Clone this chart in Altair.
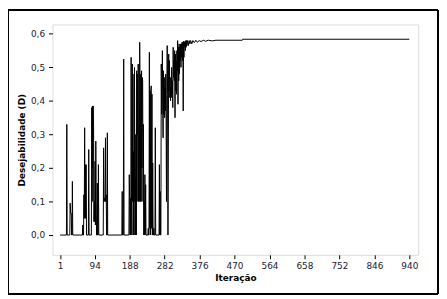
import altair as alt
import pandas as pd

iteracao = [
    1, 18, 19, 20, 27, 28, 29, 30, 31, 32, 33, 34, 35,
    61, 62, 63, 64, 65, 66, 67, 68, 69, 70, 71, 72, 77, 78, 79,
    85, 86, 87, 88, 89, 90, 91, 92, 93, 94, 95, 96, 97, 98, 99, 100, 101, 102, 103, 104, 105,
    117, 118, 119, 120, 121, 122, 123, 124, 125, 126, 127, 128, 129,
    167, 168, 169, 171, 172, 173,
    186, 187, 188, 189, 190, 191, 192, 193, 194, 195, 196, 197, 198, 199, 200,
    201, 202, 203, 204, 205, 206, 207, 208, 209, 210, 211, 212, 213, 214, 215,
    216, 217, 218, 219, 220, 221, 222, 223, 224, 225, 226, 227, 228, 229, 230, 231, 232,
    237, 238, 239, 240, 241, 242, 243, 244, 245, 246, 247, 248, 249, 250, 251, 252, 253, 254,
    256, 257, 258, 267, 268, 269, 270, 271, 272,
    273, 274, 275, 276, 277, 278, 279, 280, 281, 282, 283, 284, 285, 286, 287, 288, 289, 290,
    291, 292, 293, 294, 295, 296, 297, 298, 299, 300, 301, 302, 303, 304, 305, 306, 307, 308,
    309, 310, 311, 312, 313, 314, 315, 316, 317, 318, 319, 320, 321, 322, 323, 324, 325, 326,
    327, 328, 329, 330, 331, 332, 333, 334, 335, 336, 337, 338, 339, 340, 341, 342, 344, 346,
    348, 350, 352, 355, 358, 362, 366, 370, 375, 380, 386, 392, 400, 410, 420, 491, 492, 940,
]

desejabilidade = [
    0, 0, 0.33, 0, 0, 0.095, 0.065, 0.065, 0.065, 0, 0, 0.16, 0,
    0, 0.03, 0, 0, 0.12, 0.05, 0.32, 0.05, 0.21, 0.05, 0.21, 0, 0, 0.255, 0,
    0, 0.38, 0.2, 0.385, 0.1, 0.385, 0.32, 0.04, 0.1, 0.04, 0.22, 0.03, 0.28, 0.1, 0, 0, 0.155, 0, 0, 0.21, 0,
    0, 0.26, 0.1, 0.11, 0.11, 0.1, 0.29, 0.1, 0.12, 0, 0, 0.305, 0,
    0, 0.13, 0, 0, 0.525, 0,
    0, 0.18, 0.11, 0, 0.11, 0, 0.53, 0.1, 0, 0.51, 0.1, 0.48, 0, 0.25, 0,
    0.5, 0.1, 0.3, 0, 0.17, 0, 0.49, 0.1, 0.48, 0.3, 0.51, 0.1, 0.3, 0.1, 0.575,
    0.4, 0.1, 0.48, 0.1, 0.49, 0.2, 0.47, 0.46, 0.1, 0.33, 0, 0.1, 0, 0.18, 0, 0.15, 0,
    0, 0.02, 0, 0, 0.545, 0.02, 0.43, 0, 0.43, 0.445, 0.02, 0.42, 0, 0.215, 0, 0, 0.02, 0,
    0, 0.32, 0, 0, 0.21, 0, 0.13, 0, 0,
    0.51, 0.36, 0.40, 0.55, 0.37, 0.29, 0.49, 0.36, 0.47, 0.35, 0.44, 0.37, 0.48, 0.35, 0.1, 0.44, 0.565, 0.42,
    0, 0.26, 0.54, 0.43, 0.52, 0.41, 0.47, 0.40, 0.44, 0.41, 0.5, 0.42, 0.46, 0.38, 0.56, 0.47, 0.52, 0.46,
    0.55, 0.35, 0.54, 0.43, 0.52, 0.42, 0.55, 0.49, 0.58, 0.39, 0.56, 0.46, 0.57, 0.48, 0.56, 0.52, 0.57, 0.5,
    0.57, 0.53, 0.575, 0.52, 0.575, 0.37, 0.578, 0.53, 0.575, 0.56, 0.578, 0.55, 0.58, 0.56, 0.58, 0.565, 0.58, 0.565,
    0.58, 0.57, 0.58, 0.57, 0.58, 0.574, 0.581, 0.575, 0.58, 0.577, 0.581, 0.578, 0.581, 0.579, 0.581, 0.581, 0.584, 0.584,
]

x_ticks = [1, 94, 188, 282, 376, 470, 564, 658, 752, 846, 940]
y_ticks = [0.0, 0.1, 0.2, 0.3, 0.4, 0.5, 0.6]

df = pd.DataFrame({"Iteracao": iteracao, "D": desejabilidade})

W, H = 370, 233
PL, PT = 45, 15

axis_common = dict(
    grid=False,
    domain=False,
    tickColor="black",
    tickSize=4,
    labelColor="#1a1a2e",
    labelFont="DejaVu Sans",
    labelFontSize=9,
    titleFont="DejaVu Sans",
    titleFontSize=9,
    titleFontWeight="bold",
    titleColor="black",
)

line = alt.Chart(df).mark_line(color="black", strokeWidth=1, clip=True).encode(
    x=alt.X(
        "Iteracao:Q",
        scale=alt.Scale(domain=[-19.5, 964], nice=False, zero=False),
        axis=alt.Axis(values=x_ticks, title="Iteração", labelPadding=3, titlePadding=3, **axis_common),
    ),
    y=alt.Y(
        "D:Q",
        scale=alt.Scale(domain=[-0.059, 0.628], nice=False, zero=False),
        axis=alt.Axis(
            values=y_ticks,
            title="Desejabilidade (D)",
            labelExpr="replace(format(datum.value, '.1f'), '.', ',')",
            labelPadding=4,
            titlePadding=4,
            **axis_common,
        ),
    ),
)

border = alt.Chart(df).mark_rect(fill=None, stroke="black", strokeWidth=1, clip=False).encode(
    x=alt.value(-PL + 0.5),
    x2=alt.value(W + 19.5),
    y=alt.value(-PT + 0.5),
    y2=alt.value(H + 39.5),
)

chart = alt.layer(line, border).properties(
    width=W,
    height=H,
    autosize=alt.AutoSizeParams(type="none"),
    padding={"left": PL, "top": PT, "right": 21, "bottom": 41},
).configure_view(stroke="black", strokeWidth=1).configure(background="white")

chart.save("out.html", embed_options={"renderer": "svg", "actions": False})
